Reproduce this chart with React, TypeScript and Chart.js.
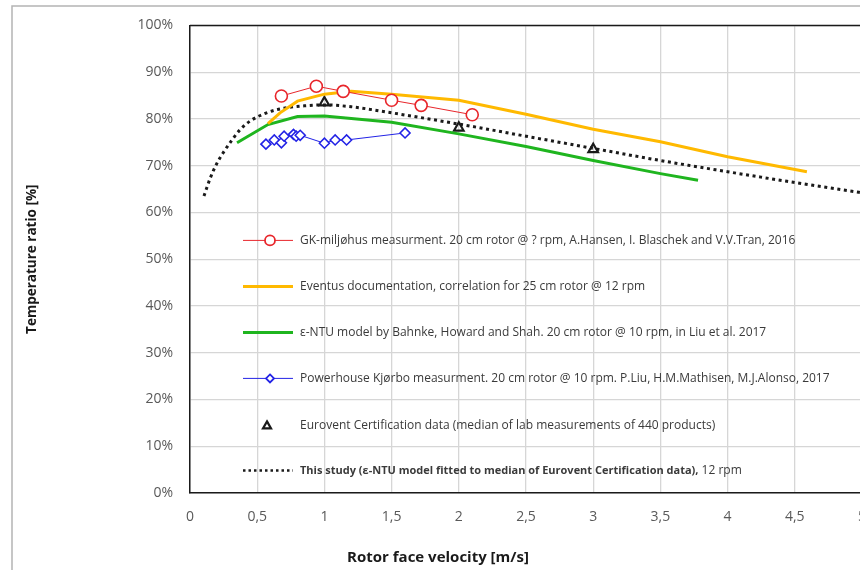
import React, { useEffect, useRef } from "react";
import { Chart, registerables } from "chart.js";

Chart.register(...registerables);

// ---- Data ----
const gkX = [0.68, 0.94, 1.14, 1.5, 1.72, 2.1];
const gkY = [84.9, 87.0, 85.9, 84.0, 82.9, 80.9];

const eventusX = [0.58, 0.67, 0.8, 1.0, 1.2, 1.5, 2.0, 2.5, 3.0, 3.5, 4.0, 4.59];
const eventusY = [79.0, 81.3, 83.8, 85.3, 85.9, 85.3, 84.0, 81.0, 77.8, 75.1, 71.9, 68.7];

const entuX = [0.35, 0.58, 0.8, 1.0, 1.5, 2.0, 2.5, 3.0, 3.5, 3.78];
const entuY = [74.9, 78.8, 80.5, 80.6, 79.3, 76.8, 74.1, 71.1, 68.3, 66.9];

const phX = [0.565, 0.627, 0.68, 0.7, 0.77, 0.79, 0.82, 1.0, 1.08, 1.165, 1.6];
const phY = [74.6, 75.5, 74.9, 76.3, 76.7, 76.3, 76.5, 74.8, 75.5, 75.5, 77.0];

const euroX = [1.0, 2.0, 3.0];
const euroY = [83.5, 78.1, 73.5];

const studyX = [0.104, 0.15, 0.2, 0.25, 0.3, 0.37, 0.45, 0.57, 0.7, 0.85, 1.0, 1.2, 1.5, 2.0, 2.5, 3.0, 3.5, 4.0, 4.5, 5.0];
const studyY = [63.5, 67.3, 70.5, 72.9, 75.0, 77.6, 79.6, 81.3, 82.3, 82.8, 83.0, 82.6, 81.3, 78.9, 76.3, 73.7, 71.1, 68.7, 66.4, 64.2];

const xTickLabels = ["0", "0,5", "1", "1,5", "2", "2,5", "3", "3,5", "4", "4,5", "5"];
const yTickLabels = ["0%", "10%", "20%", "30%", "40%", "50%", "60%", "70%", "80%", "90%", "100%"];

const seriesLabels = [
  "GK-miljøhus measurment. 20 cm rotor @ ? rpm, A.Hansen, I. Blaschek and V.V.Tran, 2016",
  "Eventus documentation, correlation for 25 cm rotor @ 12 rpm",
  "ε-NTU model by Bahnke, Howard and Shah. 20 cm rotor @ 10 rpm, in Liu et al. 2017",
  "Powerhouse Kjørbo measurment. 20 cm rotor @ 10 rpm. P.Liu, H.M.Mathisen, M.J.Alonso, 2017",
  "Eurovent Certification data (median of lab measurements of 440 products)",
  "This study (ε-NTU model fitted to median of Eurovent Certification data), 12 rpm",
];
const studyBoldPart = "This study (ε-NTU model fitted to median of Eurovent Certification data),";
const studyNormalPart = " 12 rpm";

const xTitle = "Rotor face velocity [m/s]";
const yTitle = "Temperature ratio [%]";

const zip = (xs: number[], ys: number[]) => xs.map((x, i) => ({ x, y: ys[i] }));

const RED = "#e8262b";
const ORANGE = "#ffb900";
const GREEN = "#1fb51f";
const BLUE = "#2323e6";
const FONT = "'Open Sans', 'Noto Sans', sans-serif";

function drawMarker(ctx: CanvasRenderingContext2D, kind: string, x: number, y: number, color: string) {
  ctx.save();
  ctx.strokeStyle = color;
  ctx.fillStyle = "#ffffff";
  ctx.setLineDash([]);
  ctx.beginPath();
  if (kind === "circle") {
    ctx.lineWidth = 1.8;
    ctx.arc(x, y, 5, 0, Math.PI * 2);
  } else if (kind === "diamond") {
    ctx.lineWidth = 1.8;
    const r = 4;
    ctx.moveTo(x, y - r);
    ctx.lineTo(x + r, y);
    ctx.lineTo(x, y + r);
    ctx.lineTo(x - r, y);
    ctx.closePath();
  } else if (kind === "triangle") {
    ctx.lineWidth = 2.2;
    const r = 4;
    ctx.moveTo(x, y - r);
    ctx.lineTo(x + r, y + r * 0.75);
    ctx.lineTo(x - r, y + r * 0.75);
    ctx.closePath();
  }
  ctx.fill();
  ctx.stroke();
  ctx.restore();
}

const decorPlugin = {
  id: "decor",
  beforeDraw(chart: any) {
    const { ctx, width, height } = chart;
    ctx.save();
    ctx.fillStyle = "#ffffff";
    ctx.fillRect(0, 0, width, height);
    ctx.strokeStyle = "#b4b4b4";
    ctx.lineWidth = 1.5;
    ctx.strokeRect(12, 6, width + 20, height + 20);
    ctx.restore();
  },
  afterDraw(chart: any) {
    const { ctx, chartArea } = chart;
    const { left, top, bottom, right } = chartArea;
    ctx.save();
    // top border of plot area
    ctx.strokeStyle = "#1a1a1a";
    ctx.lineWidth = 1.5;
    ctx.beginPath();
    ctx.moveTo(left, top);
    ctx.lineTo(right, top);
    ctx.stroke();

    // axis titles
    ctx.fillStyle = "#1a1a1a";
    ctx.textAlign = "center";
    ctx.textBaseline = "middle";
    ctx.font = `bold 15px ${FONT}`;
    ctx.fillText(xTitle, 438, bottom + 65);
    ctx.save();
    ctx.font = `bold 13.5px ${FONT}`;
    ctx.translate(32, (top + bottom) / 2);
    ctx.rotate(-Math.PI / 2);
    ctx.fillText(yTitle, 0, 0);
    ctx.restore();

    // legend
    const lx0 = left + 53;
    const lx1 = left + 103;
    const tx = left + 110;
    const rows = [215, 261, 307, 353, 400, 445];
    const kinds = [
      { line: RED, w: 1, marker: "circle", dash: [] as number[] },
      { line: ORANGE, w: 3, marker: "", dash: [] as number[] },
      { line: GREEN, w: 3, marker: "", dash: [] as number[] },
      { line: BLUE, w: 1, marker: "diamond", dash: [] as number[] },
      { line: "", w: 0, marker: "triangle", dash: [] as number[] },
      { line: "#1a1a1a", w: 2.5, marker: "", dash: [2.5, 3] },
    ];
    rows.forEach((off, i) => {
      const y = top + off;
      const k = kinds[i];
      if (k.line) {
        ctx.save();
        ctx.strokeStyle = k.line;
        ctx.lineWidth = k.w;
        ctx.setLineDash(k.dash);
        ctx.beginPath();
        ctx.moveTo(lx0, y);
        ctx.lineTo(lx1, y);
        ctx.stroke();
        ctx.restore();
      }
      if (k.marker) {
        const mx = k.marker === "triangle" ? lx0 + 24 : (lx0 + lx1) / 2 + 2;
        drawMarker(ctx, k.marker, mx, y, k.marker === "circle" ? RED : k.marker === "diamond" ? BLUE : "#1a1a1a");
      }
      ctx.textAlign = "left";
      ctx.textBaseline = "middle";
      ctx.fillStyle = "#3a3a3a";
      if (i === 5) {
        ctx.font = `bold 11px ${FONT}`;
        ctx.fillText(studyBoldPart, tx, y);
        const w = ctx.measureText(studyBoldPart).width;
        ctx.font = `12px ${FONT}`;
        ctx.fillText(studyNormalPart, tx + w, y);
      } else {
        ctx.font = `12px ${FONT}`;
        ctx.fillText(seriesLabels[i], tx, y);
      }
    });
    ctx.restore();
  },
};

export default function App() {
  const ref = useRef<HTMLCanvasElement | null>(null);

  useEffect(() => {
    const canvas = ref.current;
    if (!canvas) return;
    const chart = new Chart(canvas, {
      type: "line",
      data: {
        datasets: [
          {
            label: seriesLabels[0],
            data: zip(gkX, gkY),
            borderColor: RED,
            borderWidth: 1,
            pointStyle: "circle",
            pointRadius: 6,
            pointBorderWidth: 1.6,
            pointBorderColor: RED,
            pointBackgroundColor: "#ffffff",
            tension: 0,
          },
          {
            label: seriesLabels[1],
            data: zip(eventusX, eventusY),
            borderColor: ORANGE,
            borderWidth: 3,
            pointRadius: 0,
            tension: 0,
          },
          {
            label: seriesLabels[2],
            data: zip(entuX, entuY),
            borderColor: GREEN,
            borderWidth: 3,
            pointRadius: 0,
            tension: 0,
          },
          {
            label: seriesLabels[3],
            data: zip(phX, phY),
            borderColor: BLUE,
            borderWidth: 1,
            pointStyle: "rectRot",
            pointRadius: 5,
            pointBorderWidth: 1.6,
            pointBorderColor: BLUE,
            pointBackgroundColor: "#ffffff",
            tension: 0,
          },
          {
            label: seriesLabels[4],
            data: zip(euroX, euroY),
            showLine: false,
            borderColor: "#1a1a1a",
            pointStyle: "triangle",
            pointRadius: 5.5,
            pointBorderWidth: 2.2,
            pointBorderColor: "#1a1a1a",
            pointBackgroundColor: "rgba(255,255,255,0)",
          },
          {
            label: seriesLabels[5],
            data: zip(studyX, studyY),
            borderColor: "#1a1a1a",
            borderWidth: 3,
            borderDash: [3, 3.6],
            pointRadius: 0,
            tension: 0.3,
            cubicInterpolationMode: "monotone",
          },
        ],
      },
      options: {
        responsive: false,
        animation: false,
        devicePixelRatio: 1,
        layout: { padding: { top: 22, right: 38, bottom: 0, left: 0 } },
        plugins: {
          legend: { display: false },
          tooltip: { enabled: false },
          title: { display: false },
        },
        scales: {
          x: {
            type: "linear",
            min: 0,
            max: 5,
            afterFit: (s: any) => {
              s.height = 77;
            },
            afterBuildTicks: (s: any) => {
              s.ticks = xTickLabels.map((_, i) => ({ value: i * 0.5 }));
            },
            ticks: {
              stepSize: 0.5,
              padding: 16,
              color: "#595959",
              font: { family: FONT, size: 14 },
              maxRotation: 0,
              callback: (_v: any, i: number) => xTickLabels[i],
            },
            grid: { color: "#d6d6d6", lineWidth: 1.3, drawTicks: false },
            border: { color: "#1a1a1a", width: 1.5 },
          },
          y: {
            min: 0,
            max: 100,
            afterFit: (s: any) => {
              s.width = 190;
            },
            ticks: {
              stepSize: 10,
              padding: 17,
              color: "#595959",
              font: { family: FONT, size: 14 },
              callback: (_v: any, i: number) => yTickLabels[i],
            },
            grid: { color: "#d6d6d6", lineWidth: 1.3, drawTicks: false },
            border: { color: "#1a1a1a", width: 1.5 },
          },
        },
      } as any,
      plugins: [decorPlugin],
    });
    return () => chart.destroy();
  }, []);

  return (
    <div
      style={{
        position: "fixed",
        left: 0,
        top: 0,
        width: 860,
        height: 570,
        overflow: "hidden",
        background: "#ffffff",
      }}
    >
      <canvas ref={ref} width={900} height={570} style={{ display: "block", width: 900, height: 570 }} />
    </div>
  );
}
